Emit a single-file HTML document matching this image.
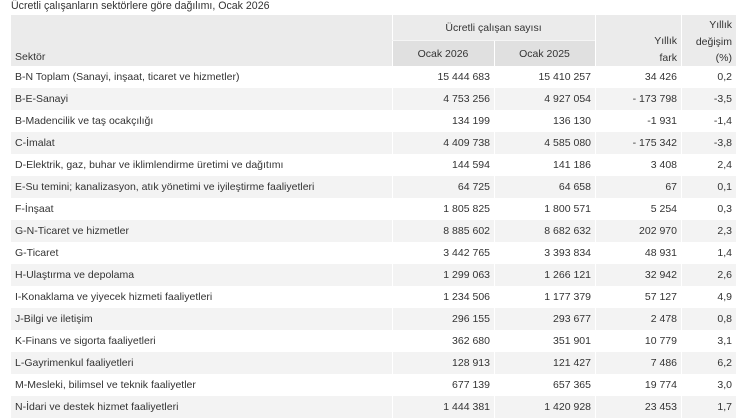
<!DOCTYPE html>
<html><head><meta charset="utf-8"><style>
*{margin:0;padding:0;box-sizing:border-box}
body{width:750px;height:418px;background:#fff;position:relative;overflow:hidden;font-family:"Liberation Sans",Arial,sans-serif;font-size:10.5px;color:#333}
.a{position:absolute;white-space:nowrap}
.title{left:11px;top:0;font-size:10.6px;line-height:12px;color:#333}
.hd{position:absolute;background:#ebebeb}
.hd2{position:absolute;background:#e0e0e0}
.row{position:absolute;left:11px;width:725px;height:22px}
.odd{background:#f3f3f3}
.c{position:absolute;top:0;height:22px;line-height:22px;white-space:nowrap}
.s{left:4px}
.n1{right:246px}
.n2{right:145px}
.n3{right:59px}
.n4{right:4px}
.vl{position:absolute;width:1px;background:#fff;top:15px;height:403px}
</style></head><body>
<div class="a title">Ücretli çalışanların sektörlere göre dağılımı, Ocak 2026</div>

<div class="hd" style="left:11px;top:15px;width:725px;height:51px"></div>
<div class="hd2" style="left:392px;top:40px;width:203px;height:26px"></div>

<div class="a" style="left:15px;top:49px;line-height:16px">Sektör</div>
<div class="a" style="left:392px;width:203px;top:20px;line-height:16px;text-align:center">Ücretli çalışan sayısı</div>
<div class="a" style="left:392px;width:102px;top:46px;line-height:16px;text-align:center">Ocak 2026</div>
<div class="a" style="left:494px;width:101px;top:46px;line-height:16px;text-align:center">Ocak 2025</div>
<div class="a" style="left:595px;width:82px;top:33px;line-height:16.5px;text-align:right">Yıllık<br>fark</div>
<div class="a" style="left:681px;width:51px;top:17px;line-height:16.5px;text-align:right">Yıllık<br>değişim<br>(%)</div>

<div class="row" style="top:66px"><span class="c s">B-N Toplam (Sanayi, inşaat, ticaret ve hizmetler)</span><span class="c n1">15 444 683</span><span class="c n2">15 410 257</span><span class="c n3">34 426</span><span class="c n4">0,2</span></div>
<div class="row odd" style="top:88px"><span class="c s">B-E-Sanayi</span><span class="c n1">4 753 256</span><span class="c n2">4 927 054</span><span class="c n3">- 173 798</span><span class="c n4">-3,5</span></div>
<div class="row" style="top:110px"><span class="c s">B-Madencilik ve taş ocakçılığı</span><span class="c n1">134 199</span><span class="c n2">136 130</span><span class="c n3">-1 931</span><span class="c n4">-1,4</span></div>
<div class="row odd" style="top:132px"><span class="c s">C-İmalat</span><span class="c n1">4 409 738</span><span class="c n2">4 585 080</span><span class="c n3">- 175 342</span><span class="c n4">-3,8</span></div>
<div class="row" style="top:154px"><span class="c s">D-Elektrik, gaz, buhar ve iklimlendirme üretimi ve dağıtımı</span><span class="c n1">144 594</span><span class="c n2">141 186</span><span class="c n3">3 408</span><span class="c n4">2,4</span></div>
<div class="row odd" style="top:176px"><span class="c s">E-Su temini; kanalizasyon, atık yönetimi ve iyileştirme faaliyetleri</span><span class="c n1">64 725</span><span class="c n2">64 658</span><span class="c n3">67</span><span class="c n4">0,1</span></div>
<div class="row" style="top:198px"><span class="c s">F-İnşaat</span><span class="c n1">1 805 825</span><span class="c n2">1 800 571</span><span class="c n3">5 254</span><span class="c n4">0,3</span></div>
<div class="row odd" style="top:220px"><span class="c s">G-N-Ticaret ve hizmetler</span><span class="c n1">8 885 602</span><span class="c n2">8 682 632</span><span class="c n3">202 970</span><span class="c n4">2,3</span></div>
<div class="row" style="top:242px"><span class="c s">G-Ticaret</span><span class="c n1">3 442 765</span><span class="c n2">3 393 834</span><span class="c n3">48 931</span><span class="c n4">1,4</span></div>
<div class="row odd" style="top:264px"><span class="c s">H-Ulaştırma ve depolama</span><span class="c n1">1 299 063</span><span class="c n2">1 266 121</span><span class="c n3">32 942</span><span class="c n4">2,6</span></div>
<div class="row" style="top:286px"><span class="c s">I-Konaklama ve yiyecek hizmeti faaliyetleri</span><span class="c n1">1 234 506</span><span class="c n2">1 177 379</span><span class="c n3">57 127</span><span class="c n4">4,9</span></div>
<div class="row odd" style="top:308px"><span class="c s">J-Bilgi ve iletişim</span><span class="c n1">296 155</span><span class="c n2">293 677</span><span class="c n3">2 478</span><span class="c n4">0,8</span></div>
<div class="row" style="top:330px"><span class="c s">K-Finans ve sigorta faaliyetleri</span><span class="c n1">362 680</span><span class="c n2">351 901</span><span class="c n3">10 779</span><span class="c n4">3,1</span></div>
<div class="row odd" style="top:352px"><span class="c s">L-Gayrimenkul faaliyetleri</span><span class="c n1">128 913</span><span class="c n2">121 427</span><span class="c n3">7 486</span><span class="c n4">6,2</span></div>
<div class="row" style="top:374px"><span class="c s">M-Mesleki, bilimsel ve teknik faaliyetler</span><span class="c n1">677 139</span><span class="c n2">657 365</span><span class="c n3">19 774</span><span class="c n4">3,0</span></div>
<div class="row odd" style="top:396px"><span class="c s">N-İdari ve destek hizmet faaliyetleri</span><span class="c n1">1 444 381</span><span class="c n2">1 420 928</span><span class="c n3">23 453</span><span class="c n4">1,7</span></div>

<div class="vl" style="left:392px"></div>
<div class="vl" style="left:494px;top:40px;height:378px"></div>
<div class="vl" style="left:595px"></div>
<div class="vl" style="left:681px"></div>
<div class="a" style="left:392px;top:40px;width:203px;height:1px;background:#f5f5f5"></div>
</body></html>
